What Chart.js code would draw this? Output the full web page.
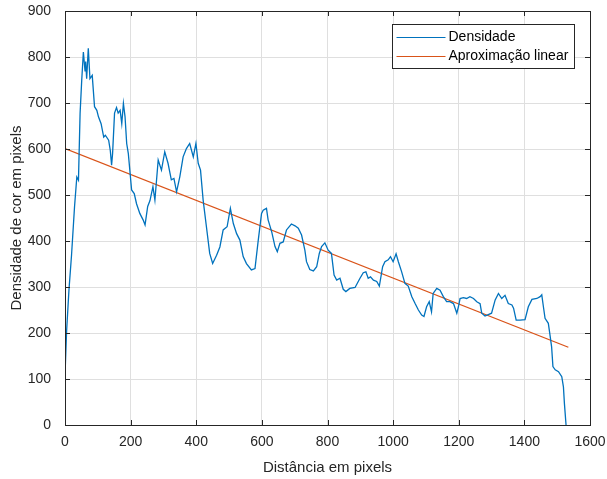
<!doctype html>
<html lang="en">
<head>
  <meta charset="utf-8">
  <title>Densidade de cor</title>
  <style>
    html, body { margin: 0; padding: 0; background: #fff; }
    #wrap { width: 607px; height: 479px; }
  </style>
</head>
<body>
  <div id="wrap">
    <canvas id="myChart"></canvas>
  </div>
  <script src="https://cdn.jsdelivr.net/npm/chart.js"></script>
  <script>
    // distance (pixels) and colour density
    const distancia = [0,5,12,20,29,36,41,46,51,56,61,63,66,71,76,83,90,97,102,110,118,123,133,138,142,145,151,157,162,168,173,178,183,188,193,203,211,218,228,238,244,252,259,268,274,284,294,304,314,324,332,340,350,360,370,380,391,399,406,413,421,431,441,450,462,472,482,494,504,513,523,533,543,553,568,579,589,599,604,614,619,630,640,647,655,665,675,690,701,711,721,731,736,746,757,767,775,782,792,802,812,820,828,838,848,856,868,884,899,909,917,924,931,940,950,958,968,975,985,992,1000,1009,1016,1026,1036,1046,1057,1067,1077,1087,1094,1102,1110,1117,1122,1133,1143,1153,1163,1173,1184,1194,1199,1204,1214,1224,1234,1245,1255,1265,1270,1280,1290,1300,1311,1321,1331,1341,1351,1362,1367,1375,1387,1402,1412,1423,1438,1448,1453,1458,1463,1473,1478,1483,1487,1494,1504,1514,1519,1522,1527];
    const densidade = [109,206,293,370,474,539,532,678,750,811,770,790,753,819,753,760,692,684,670,655,626,630,619,597,565,590,678,690,678,684,655,699,670,612,590,511,503,481,460,446,435,475,488,518,489,576,554,594,569,533,536,507,540,583,601,612,583,612,569,554,489,431,373,351,369,387,424,431,471,438,416,402,366,351,337,340,402,460,467,471,446,420,388,377,395,398,424,437,433,428,413,380,355,338,335,344,373,388,396,380,373,326,315,319,295,290,297,299,319,331,333,319,322,315,312,302,344,355,359,366,355,372,355,333,308,302,279,264,250,239,236,257,268,246,286,297,293,279,268,268,264,243,257,275,277,275,279,275,268,264,243,237,240,243,272,286,275,282,264,261,254,228,228,229,257,273,275,279,283,257,232,221,196,170,127,120,116,105,83,47,0];

    const ajusteX = [0, 1534];
    const ajusteY = [601, 169];

    const xTicks = [0,200,400,600,800,1000,1200,1400,1600];
    const yTicks = [0,100,200,300,400,500,600,700,800,900];

    const AXIS = '#262626';
    const GRID = '#dfdfdf';
    const FONT = '"Liberation Sans", Arial, sans-serif';

    const pts = (xs, ys) => xs.map((x, i) => ({ x: x, y: ys[i] }));

    // MATLAB style box with inward ticks and legend inside the axes
    const matlabBox = {
      id: 'matlabBox',
      afterDraw(chart) {
        const { ctx, chartArea: a, scales } = chart;
        ctx.save();
        ctx.strokeStyle = AXIS;
        ctx.lineWidth = 1;
        ctx.strokeRect(Math.round(a.left) + 0.5, Math.round(a.top) + 0.5,
          Math.round(a.right - a.left), Math.round(a.bottom - a.top));
        ctx.beginPath();
        xTicks.forEach(v => {
          const px = Math.round(scales.x.getPixelForValue(v)) + 0.5;
          ctx.moveTo(px, a.bottom); ctx.lineTo(px, a.bottom - 5);
          ctx.moveTo(px, a.top); ctx.lineTo(px, a.top + 5);
        });
        yTicks.forEach(v => {
          const py = Math.round(scales.y.getPixelForValue(v)) + 0.5;
          ctx.moveTo(a.left, py); ctx.lineTo(a.left + 5, py);
          ctx.moveTo(a.right, py); ctx.lineTo(a.right - 5, py);
        });
        ctx.stroke();

        // legend
        const w = 182, h = 44;
        const lx = Math.round(a.right - 16) - w + 0.5, ly = Math.round(a.top + 13) + 0.5;
        ctx.fillStyle = '#fff';
        ctx.fillRect(lx, ly, w, h);
        ctx.strokeStyle = AXIS;
        ctx.strokeRect(lx, ly, w, h);
        ctx.font = '14px ' + FONT;
        ctx.textBaseline = 'middle';
        chart.data.datasets.forEach((ds, i) => {
          const yy = ly + 12 + i * 19;
          ctx.strokeStyle = ds.borderColor;
          ctx.lineWidth = 1;
          ctx.beginPath();
          ctx.moveTo(lx + 4, Math.round(yy) + 0.5);
          ctx.lineTo(lx + 53, Math.round(yy) + 0.5);
          ctx.stroke();
          ctx.fillStyle = '#000';
          ctx.fillText(ds.label, lx + 56, yy + 1);
        });
        ctx.restore();
      }
    };

    const config = {
      type: 'line',
      data: {
        datasets: [
          {
            label: 'Densidade',
            data: pts(distancia, densidade),
            borderColor: '#0072BD',
            borderWidth: 1.3,
            pointRadius: 0,
            tension: 0
          },
          {
            label: 'Aproximação linear',
            data: pts(ajusteX, ajusteY),
            borderColor: '#D95319',
            borderWidth: 1.3,
            pointRadius: 0
          }
        ]
      },
      options: {
        responsive: true,
        maintainAspectRatio: false,
        animation: false,
        layout: { padding: { top: 11, right: 17, left: 0, bottom: 0 } },
        plugins: {
          legend: { display: false },
          tooltip: { enabled: false }
        },
        scales: {
          x: {
            type: 'linear',
            min: 0,
            max: 1600,
            afterFit: s => { s.height = 54; s.paddingLeft = 0; s.paddingRight = 0; },
            afterBuildTicks: s => { s.ticks = xTicks.map(v => ({ value: v })); },
            grid: { color: GRID, drawTicks: false },
            border: { color: AXIS },
            ticks: { color: AXIS, padding: 9, maxRotation: 0, autoSkip: false, callback: v => String(v), font: { family: FONT, size: 14 } },
            title: {
              display: true,
              text: 'Distância em pixels',
              color: AXIS,
              padding: { top: 4, bottom: 2 },
              font: { family: FONT, size: 15 }
            }
          },
          y: {
            min: 0,
            max: 900,
            afterFit: s => { s.width = 65; s.paddingTop = 0; s.paddingBottom = 0; },
            afterBuildTicks: s => { s.ticks = yTicks.map(v => ({ value: v })); },
            grid: { color: GRID, drawTicks: false },
            border: { color: AXIS },
            ticks: { color: AXIS, padding: 14, callback: v => String(v), font: { family: FONT, size: 14 } },
            title: {
              display: true,
              text: 'Densidade de cor em pixels',
              color: AXIS,
              padding: { top: 8, bottom: 0 },
              font: { family: FONT, size: 15 }
            }
          }
        }
      },
      plugins: [matlabBox]
    };

    const myChart = new Chart(document.getElementById('myChart'), config);
  </script>
</body>
</html>
